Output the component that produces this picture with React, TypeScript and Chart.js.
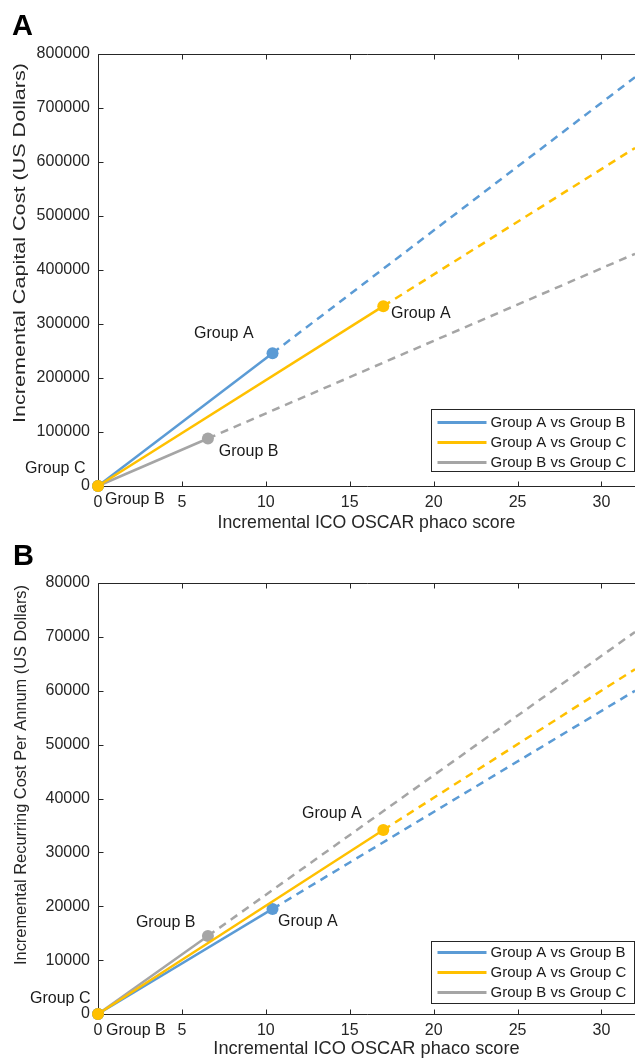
import React, { useEffect, useRef } from 'react';
import { Chart, registerables } from 'chart.js';

Chart.register(...registerables);

// ---------- data ----------
const SERIES_NAMES = ['Group A vs Group B', 'Group A vs Group C', 'Group B vs Group C'];
const X_MIN = 0;
const X_MAX = 32;
const X_STEP = 5;

// Panel A: incremental capital cost
const capitalScore = [10.4, 17.0, 6.55];
const capitalCost = [246000, 333000, 88000];
const capitalCostAtEdge = [757000, 626000, 430000];
const capitalYMax = 800000;
const capitalYStep = 100000;
const capitalLabelText = ['Group A', 'Group A', 'Group B', 'Group C', 'Group B'];
const capitalLabelX = [5.72, 17.46, 7.2, -4.35, 0.42];
const capitalLabelY = [283000, 318500, 63000, 31500, -26000];

// Panel B: incremental recurring cost per annum
const recurringScore = [10.4, 17.0, 6.55];
const recurringCost = [19500, 34150, 14480];
const recurringCostAtEdge = [60000, 64000, 70900];
const recurringYMax = 80000;
const recurringYStep = 10000;
const recurringLabelText = ['Group A', 'Group A', 'Group B', 'Group C', 'Group B'];
const recurringLabelX = [12.16, 10.73, 2.26, -4.05, 0.48];
const recurringLabelY = [37120, 17075, 16890, 2780, -3150];

// ---------- styles ----------
const COLORS = ['#5B9BD5', '#FFC000', '#A5A5A5'];
const DRAW_ORDER = [1, 0, 2];
const FONT = '"Liberation Sans", Arial, Helvetica, sans-serif';
const AXIS_COLOR = '#262626';
const TEXT_COLOR = '#1a1a1a';
const W = 635;

function buildDatasets(score: number[], cost: number[], edge: number[]) {
  const ds: any[] = [];
  score.forEach((s, i) => {
    ds.push({
      label: SERIES_NAMES[i],
      data: [{ x: 0, y: 0 }, { x: s, y: cost[i] }],
      showLine: true,
      borderColor: COLORS[i],
      backgroundColor: COLORS[i],
      borderWidth: 2.5,
      pointRadius: 6,
      pointHoverRadius: 6,
      pointBorderWidth: 0,
      pointBackgroundColor: COLORS[i],
      order: DRAW_ORDER[i],
      clip: false,
    });
    ds.push({
      label: SERIES_NAMES[i] + ' (extension)',
      data: [{ x: s, y: cost[i] }, { x: X_MAX, y: edge[i] }],
      showLine: true,
      borderColor: COLORS[i],
      backgroundColor: COLORS[i],
      borderWidth: 2.5,
      borderDash: [8, 6],
      pointRadius: 0,
      order: DRAW_ORDER[i] + 3,
      clip: false,
    });
  });
  return ds;
}

interface PanelCfg {
  letter: string;
  letterX: number;
  letterY: number;
  yTitle: string;
  yTitleX: number;
  yTitleY: number;
  yTitleLen: number;
  legendGap: number;
  legendRow0: number;
  labelText: string[];
  labelX: number[];
  labelY: number[];
}

function makeDecor(cfg: PanelCfg) {
  return {
    id: 'panelDecor',
    beforeDatasetsDraw(chart: any) {
      const ctx = chart.ctx;
      const { left, top, right, bottom } = chart.chartArea;
      const xs = chart.scales.x;
      const ys = chart.scales.y;
      const L = Math.round(left) + 0.5;
      const T = Math.round(top) + 0.5;
      const B = Math.round(bottom) + 0.5;
      ctx.save();
      ctx.strokeStyle = AXIS_COLOR;
      ctx.lineWidth = 1;
      ctx.beginPath();
      ctx.moveTo(right + 2, T);
      ctx.lineTo(L, T);
      ctx.lineTo(L, B);
      ctx.lineTo(right + 2, B);
      xs.ticks.forEach((t: any) => {
        const px = Math.round(xs.getPixelForValue(t.value)) + 0.5;
        ctx.moveTo(px, B);
        ctx.lineTo(px, B - 5);
        ctx.moveTo(px, T);
        ctx.lineTo(px, T + 5);
      });
      ys.ticks.forEach((t: any) => {
        const py = Math.round(ys.getPixelForValue(t.value)) + 0.5;
        ctx.moveTo(L, py);
        ctx.lineTo(L + 5, py);
      });
      ctx.stroke();
      ctx.restore();
    },
    afterDraw(chart: any) {
      const ctx = chart.ctx;
      const { right, bottom } = chart.chartArea;
      const xs = chart.scales.x;
      const ys = chart.scales.y;
      ctx.save();
      // panel letter
      ctx.fillStyle = '#000';
      ctx.font = `bold 29px ${FONT}`;
      ctx.textAlign = 'left';
      ctx.textBaseline = 'alphabetic';
      ctx.fillText(cfg.letter, cfg.letterX, cfg.letterY);

      // y title
      ctx.save();
      ctx.fillStyle = AXIS_COLOR;
      ctx.font = `17px ${FONT}`;
      ctx.translate(cfg.yTitleX, cfg.yTitleY);
      ctx.rotate(-Math.PI / 2);
      const w = ctx.measureText(cfg.yTitle).width;
      ctx.scale(cfg.yTitleLen / w, 1);
      ctx.textAlign = 'center';
      ctx.textBaseline = 'middle';
      ctx.fillText(cfg.yTitle, 0, 0);
      ctx.restore();

      // point labels
      ctx.fillStyle = TEXT_COLOR;
      ctx.font = `16px ${FONT}`;
      ctx.textAlign = 'left';
      ctx.textBaseline = 'middle';
      cfg.labelText.forEach((t, i) => {
        ctx.fillText(t, xs.getPixelForValue(cfg.labelX[i]), ys.getPixelForValue(cfg.labelY[i]));
      });

      // legend
      const bw = 203;
      const bh = 62;
      const bx = Math.round(right) - 1 - bw + 0.5;
      const by = Math.round(bottom) - cfg.legendGap - bh + 0.5;
      ctx.fillStyle = '#fff';
      ctx.fillRect(bx, by, bw, bh);
      ctx.strokeStyle = AXIS_COLOR;
      ctx.lineWidth = 1;
      ctx.strokeRect(bx, by, bw, bh);
      ctx.font = `15px ${FONT}`;
      ctx.textBaseline = 'middle';
      SERIES_NAMES.forEach((name, i) => {
        const ry = by + cfg.legendRow0 + i * 20;
        ctx.strokeStyle = COLORS[i];
        ctx.lineWidth = 3;
        ctx.beginPath();
        ctx.moveTo(bx + 6, ry);
        ctx.lineTo(bx + 55, ry);
        ctx.stroke();
        ctx.fillStyle = TEXT_COLOR;
        ctx.fillText(name, bx + 59, ry);
      });
      ctx.restore();
    },
  };
}

function makeConfig(opts: {
  datasets: any[];
  yMax: number;
  yStep: number;
  padTop: number;
  xTitlePadBottom: number;
  xTitleSize: number;
  decor: any;
}) {
  return {
    type: 'scatter' as const,
    data: { datasets: opts.datasets },
    plugins: [opts.decor],
    options: {
      responsive: false,
      animation: false as const,
      events: [] as any[],
      layout: { autoPadding: false, padding: { top: opts.padTop, left: 0, right: 0, bottom: 0 } },
      plugins: {
        legend: { display: false },
        tooltip: { enabled: false },
        title: { display: false },
      },
      scales: {
        x: {
          type: 'linear' as const,
          min: X_MIN,
          max: X_MAX,
          grid: { display: false, drawTicks: false },
          border: { display: false },
          ticks: {
            stepSize: X_STEP,
            includeBounds: false,
            padding: 7,
            color: AXIS_COLOR,
            font: { size: 16, family: FONT },
            maxRotation: 0,
            callback: (v: any) => String(v),
          },
          title: {
            display: true,
            text: 'Incremental ICO OSCAR phaco score',
            color: AXIS_COLOR,
            font: { size: opts.xTitleSize, family: FONT },
            padding: { top: 0, bottom: opts.xTitlePadBottom },
          },
          afterFit: (s: any) => {
            s.height = 49;
            s.paddingLeft = 0;
            s.paddingRight = 0;
          },
        },
        y: {
          type: 'linear' as const,
          min: 0,
          max: opts.yMax,
          grid: { display: false, drawTicks: false },
          border: { display: false },
          ticks: {
            stepSize: opts.yStep,
            includeBounds: false,
            padding: 8,
            color: AXIS_COLOR,
            font: { size: 16, family: FONT },
            callback: (v: any) => String(v),
          },
          afterFit: (s: any) => {
            s.width = 98;
            s.paddingTop = 0;
            s.paddingBottom = 0;
          },
        },
      },
    },
  };
}

function Panel(props: { height: number; top: number; config: any }) {
  const ref = useRef<HTMLCanvasElement | null>(null);
  useEffect(() => {
    if (!ref.current) return;
    const chart = new Chart(ref.current, props.config);
    return () => chart.destroy();
  }, []);
  return (
    <canvas
      ref={ref}
      width={W}
      height={props.height}
      style={{ position: 'absolute', left: 0, top: props.top, width: W, height: props.height, display: 'block' }}
    />
  );
}

export default function App() {
  const configA = makeConfig({
    datasets: buildDatasets(capitalScore, capitalCost, capitalCostAtEdge),
    yMax: capitalYMax,
    yStep: capitalYStep,
    padTop: 54,
    xTitlePadBottom: 1.4,
    xTitleSize: 17.7,
    decor: makeDecor({
      letter: 'A',
      letterX: 12,
      letterY: 35,
      yTitle: 'Incremental Capital Cost (US Dollars)',
      yTitleX: 20,
      yTitleY: 243,
      yTitleLen: 360,
      legendGap: 15,
      legendRow0: 13,
      labelText: capitalLabelText,
      labelX: capitalLabelX,
      labelY: capitalLabelY,
    }),
  });
  const configB = makeConfig({
    datasets: buildDatasets(recurringScore, recurringCost, recurringCostAtEdge),
    yMax: recurringYMax,
    yStep: recurringYStep,
    padTop: 48,
    xTitlePadBottom: 3,
    xTitleSize: 18.2,
    decor: makeDecor({
      letter: 'B',
      letterX: 13,
      letterY: 30,
      yTitle: 'Incremental Recurring Cost Per Annum (US Dollars)',
      yTitleX: 21,
      yTitleY: 240,
      yTitleLen: 380,
      legendGap: 11,
      legendRow0: 11,
      labelText: recurringLabelText,
      labelX: recurringLabelX,
      labelY: recurringLabelY,
    }),
  });
  return (
    <div style={{ position: 'absolute', left: 0, top: 0, width: W, height: 1063, overflow: 'hidden', background: '#fff' }}>
      <Panel height={535} top={0} config={configA} />
      <Panel height={528} top={535} config={configB} />
    </div>
  );
}
